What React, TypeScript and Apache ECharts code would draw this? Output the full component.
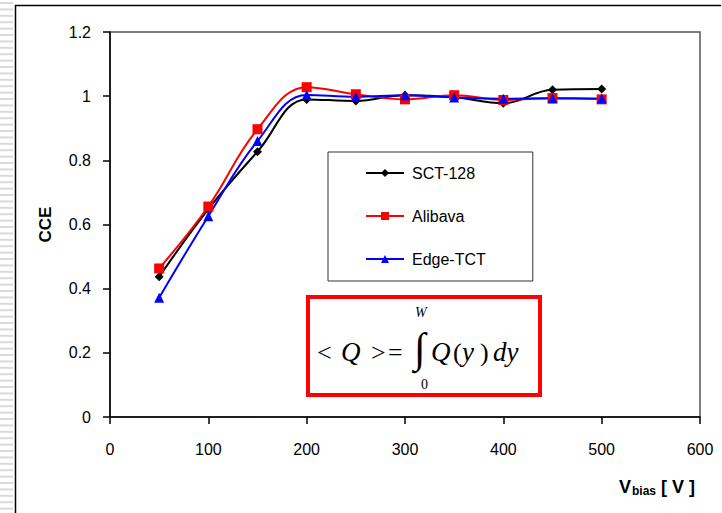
import React, { useEffect, useRef } from "react";
import * as echarts from "echarts";

const vbias = [50, 100, 150, 200, 250, 300, 350, 400, 450, 500];
const sct128 = [0.437, 0.648, 0.827, 0.99, 0.985, 1.003, 0.997, 0.978, 1.02, 1.022];
const alibava = [0.463, 0.656, 0.897, 1.028, 1.006, 0.99, 1.003, 0.988, 0.994, 0.99];
const edgeTct = [0.372, 0.626, 0.86, 1.004, 0.998, 1.003, 0.996, 0.992, 0.993, 0.993];
const seriesNames = ["SCT-128", "Alibava", "Edge-TCT"];

const SANS = '"Liberation Sans", Arial, sans-serif';
const SERIF = '"Liberation Serif", "Times New Roman", serif';

function pairs(ys: number[]) {
  return vbias.map((x, i) => [x, ys[i]]);
}

function mathText(text: string, x: number, y: number, size: number, italic: boolean) {
  return {
    type: "text",
    x,
    y,
    z: 100,
    style: {
      text,
      fill: "#000",
      fontFamily: SERIF,
      fontSize: size,
      fontStyle: italic ? "italic" : "normal",
      align: "left",
      verticalAlign: "middle",
    },
  };
}

export default function App() {
  const ref = useRef<HTMLDivElement>(null);
  useEffect(() => {
    if (!ref.current) return;
    const chart = echarts.init(ref.current, null, { renderer: "svg" });

    const stripes: any[] = [];
    for (let y = 2; y < 513; y += 6.4) {
      stripes.push({ type: "rect", shape: { x: 0, y, width: 13, height: 2 }, style: { fill: "#dadada" }, silent: true });
    }

    const option: any = {
      animation: false,
      backgroundColor: "#fff",
      grid: {
        left: 110,
        top: 32,
        right: 22,
        bottom: 96,
        show: true,
        borderColor: "#555",
        borderWidth: 1.5,
        containLabel: false,
        outerBoundsMode: "none",
      },
      xAxis: {
        type: "value",
        min: 0,
        max: 600,
        interval: 100,
        axisLine: { show: true, onZero: false, lineStyle: { color: "#000", width: 1.5 } },
        axisTick: { show: true, inside: false, length: 7, lineStyle: { color: "#000", width: 1.5 } },
        axisLabel: { color: "#000", fontSize: 16, fontFamily: SANS, margin: 24 },
        splitLine: { show: false },
      },
      yAxis: {
        type: "value",
        min: 0,
        max: 1.2,
        interval: 0.2,
        name: "CCE",
        nameLocation: "middle",
        nameGap: 56,
        nameRotate: 90,
        nameTextStyle: { color: "#000", fontSize: 17, fontWeight: "bold", fontFamily: SANS },
        axisLine: { show: true, onZero: false, lineStyle: { color: "#000", width: 1.5 } },
        axisTick: { show: true, inside: false, length: 7, lineStyle: { color: "#000", width: 1.5 } },
        axisLabel: { color: "#000", fontSize: 16, fontFamily: SANS, margin: 19 },
        splitLine: { show: false },
      },
      legend: {
        orient: "vertical",
        left: 328,
        top: 152,
        padding: [12, 47, 13, 37],
        itemGap: 25,
        itemWidth: 38,
        itemHeight: 10,
        backgroundColor: "#fff",
        borderColor: "#333",
        borderWidth: 1,
        textStyle: { fontSize: 16, fontFamily: SANS, color: "#000", lineHeight: 18, padding: [0, 0, 0, 3] },
        data: seriesNames,
      },
      series: [
        {
          name: seriesNames[0],
          type: "line",
          data: pairs(sct128),
          smooth: 0.4,
          symbol: "diamond",
          symbolSize: 9,
          lineStyle: { color: "#000", width: 2 },
          itemStyle: { color: "#000" },
        },
        {
          name: seriesNames[1],
          type: "line",
          data: pairs(alibava),
          smooth: 0.4,
          symbol: "rect",
          symbolSize: 10,
          lineStyle: { color: "#ff0000", width: 2 },
          itemStyle: { color: "#ff0000" },
        },
        {
          name: seriesNames[2],
          type: "line",
          data: pairs(edgeTct),
          smooth: 0.4,
          symbol: "triangle",
          symbolSize: 10,
          lineStyle: { color: "#0000ff", width: 2 },
          itemStyle: { color: "#0000ff" },
        },
      ],
      graphic: [
        ...stripes,
        {
          type: "polyline",
          shape: { points: [[15.5, 513], [15.5, 5.5], [721, 5.5]] },
          style: { stroke: "#000", lineWidth: 1.5, fill: null },
          silent: true,
        },
        {
          type: "rect",
          z: 90,
          shape: { x: 308, y: 297, width: 232, height: 98 },
          style: { stroke: "#ff0000", lineWidth: 4, fill: "#fff" },
        },
        mathText("<", 317, 352, 26, false),
        mathText("Q", 341, 352, 27, true),
        mathText(">", 371, 352, 26, false),
        mathText("=", 388, 352, 26, false),
        mathText("\u222B", 414, 348, 42, false),
        mathText("Q", 431, 352, 27, true),
        mathText("(", 453, 352, 26, false),
        mathText("y", 462, 352, 27, true),
        mathText(")", 480, 352, 26, false),
        mathText("dy", 493, 352, 27, true),
        mathText("W", 415, 312, 14, true),
        mathText("0", 421, 384, 14, false),
        {
          type: "text",
          x: 619,
          y: 487,
          style: { text: "V", fill: "#000", fontFamily: SANS, fontSize: 18, fontWeight: "bold", align: "left", verticalAlign: "middle" },
        },
        {
          type: "text",
          x: 632,
          y: 491,
          style: { text: "bias", fill: "#000", fontFamily: SANS, fontSize: 12, fontWeight: "bold", align: "left", verticalAlign: "middle" },
        },
        {
          type: "text",
          x: 661,
          y: 487,
          style: { text: "[ V ]", fill: "#000", fontFamily: SANS, fontSize: 18, fontWeight: "bold", align: "left", verticalAlign: "middle" },
        },
      ],
    };
    chart.setOption(option);
    return () => chart.dispose();
  }, []);
  return <div ref={ref} style={{ position: "fixed", left: 0, top: 0, width: 722, height: 513 }} />;
}
